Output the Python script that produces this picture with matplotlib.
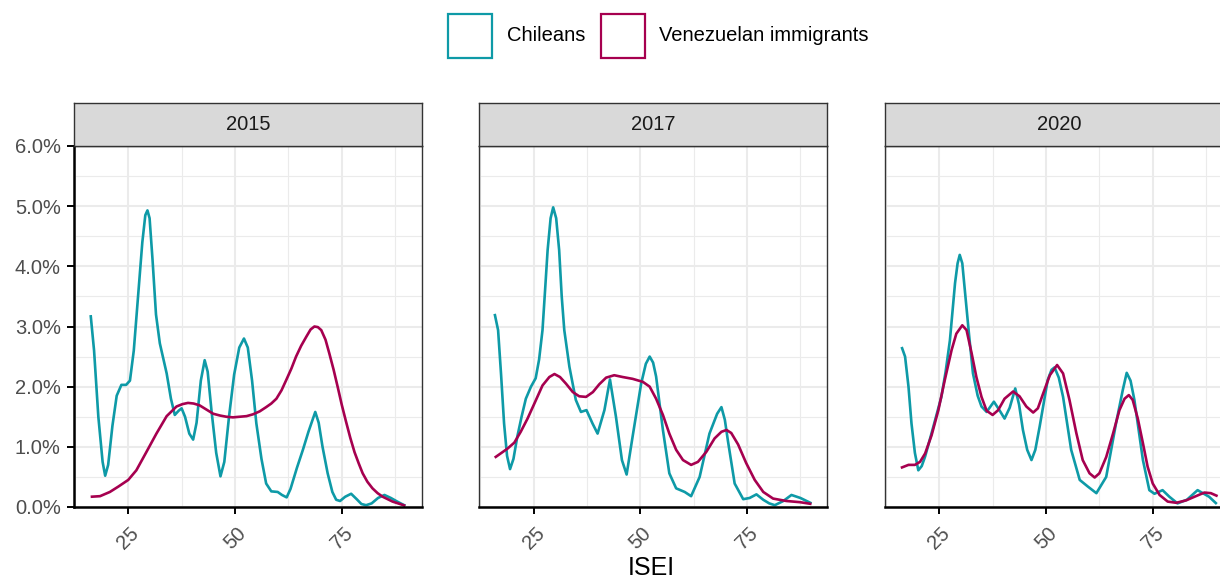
import matplotlib
matplotlib.use("Agg")
import matplotlib.pyplot as plt
from matplotlib.patches import Rectangle
from matplotlib.ticker import PercentFormatter, MultipleLocator

plt.rcParams['font.family'] = ['Liberation Sans', 'DejaVu Sans']

# ---- data: ISEI density by year and group (density in percent) ----
years = ["2015", "2017", "2020"]
groups = ["Chileans", "Venezuelan immigrants"]
group_colors = ["#0E9AA7", "#A6004F"]

chi_2015_x = [16.2, 17.0, 18.0, 19.0, 19.6, 20.3, 21.3, 22.3, 23.4, 24.5, 25.4, 26.3, 27.3, 28.3, 29.0,
              29.5, 30.0, 30.7, 31.5, 32.4, 34.0, 35.0, 35.9, 36.8, 37.5, 38.3, 39.3, 40.2, 41.0, 42.0,
              42.9, 43.6, 44.5, 45.6, 46.6, 47.5, 48.6, 49.8, 51.0, 52.1, 53.0, 54.0, 55.0, 56.2, 57.3,
              58.5, 60.0, 61.0, 62.1, 63.0, 64.5, 65.9, 67.2, 68.8, 69.6, 70.5, 71.7, 72.8, 73.7, 74.6,
              75.8, 77.2, 78.5, 79.6, 80.7, 82.0, 83.5, 85.0, 86.5, 88.0, 89.9]
chi_2015_y = [3.19, 2.60, 1.50, 0.75, 0.52, 0.70, 1.35, 1.85, 2.03, 2.03, 2.10, 2.60, 3.50, 4.40, 4.85,
              4.93, 4.80, 4.10, 3.20, 2.72, 2.22, 1.80, 1.53, 1.60, 1.64, 1.50, 1.22, 1.12, 1.40, 2.10,
              2.44, 2.25, 1.60, 0.90, 0.51, 0.75, 1.50, 2.20, 2.65, 2.80, 2.65, 2.10, 1.39, 0.80, 0.39,
              0.26, 0.25, 0.20, 0.16, 0.30, 0.65, 0.95, 1.25, 1.58, 1.40, 1.00, 0.56, 0.25, 0.12, 0.10,
              0.17, 0.22, 0.13, 0.05, 0.03, 0.06, 0.15, 0.20, 0.15, 0.09, 0.02]

ven_2015_x = [16.2, 18.4, 20.7, 22.7, 25.0, 26.9, 29.3, 31.6, 34.0, 36.3, 37.7, 39.0, 40.3, 41.7, 43.3,
              44.9, 46.5, 48.0, 49.5, 51.1, 52.7, 54.2, 55.8, 57.3, 58.5, 59.7, 60.9, 62.0, 63.2, 64.3,
              65.5, 66.7, 67.7, 68.6, 69.4, 70.2, 71.2, 72.1, 73.1, 74.1, 75.0, 76.0, 77.0, 78.0, 79.0,
              79.9, 81.0, 82.2, 83.4, 84.6, 86.9, 89.9]
ven_2015_y = [0.17, 0.18, 0.25, 0.34, 0.45, 0.61, 0.92, 1.22, 1.51, 1.67, 1.71, 1.73, 1.72, 1.69, 1.62,
              1.55, 1.52, 1.50, 1.49, 1.50, 1.51, 1.54, 1.59, 1.66, 1.72, 1.80, 1.94, 2.11, 2.30, 2.50,
              2.68, 2.83, 2.95, 3.00, 2.99, 2.94, 2.78, 2.55, 2.28, 1.98, 1.70, 1.42, 1.15, 0.91, 0.72,
              0.56, 0.42, 0.31, 0.23, 0.17, 0.09, 0.02]

chi_2017_x = [15.9, 16.7, 17.4, 18.1, 18.8, 19.5, 20.3, 21.2, 22.2, 23.2, 24.4, 25.5, 26.3, 27.1, 27.7,
              28.3, 29.0, 29.6, 30.3, 31.0, 31.6, 32.2, 33.4, 34.9, 36.1, 37.4, 38.8, 40.0, 41.6, 42.9,
              44.3, 45.7, 46.8, 48.2, 50.2, 51.3, 52.2, 53.0, 53.7, 55.3, 56.8, 58.4, 60.4, 61.9, 63.9,
              66.2, 68.0, 69.0, 69.8, 70.5, 72.1, 74.1, 75.6, 77.2, 78.8, 80.2, 81.5, 83.5, 85.4, 87.5,
              90.1]
chi_2017_y = [3.21, 2.94, 2.20, 1.39, 0.85, 0.63, 0.80, 1.17, 1.50, 1.80, 2.00, 2.14, 2.45, 2.94, 3.60,
              4.27, 4.80, 4.98, 4.80, 4.27, 3.50, 2.94, 2.33, 1.78, 1.58, 1.61, 1.39, 1.22, 1.61, 2.12,
              1.50, 0.78, 0.54, 1.17, 2.05, 2.38, 2.50, 2.40, 2.17, 1.28, 0.56, 0.31, 0.25, 0.18, 0.50,
              1.22, 1.55, 1.66, 1.45, 1.11, 0.39, 0.13, 0.15, 0.21, 0.12, 0.06, 0.03, 0.10, 0.20, 0.15,
              0.06]

ven_2017_x = [15.9, 17.3, 18.9, 20.5, 22.0, 23.6, 25.2, 27.1, 28.7, 29.9, 31.2, 32.6, 34.2, 35.7, 37.3,
              38.9, 40.4, 42.0, 43.9, 45.9, 48.2, 50.6, 52.2, 53.7, 55.3, 56.8, 58.4, 60.0, 61.9, 63.5,
              65.5, 67.4, 69.0, 70.2, 71.3, 72.9, 74.8, 76.8, 78.8, 81.1, 84.2, 87.4, 90.1]
ven_2017_y = [0.82, 0.89, 0.97, 1.07, 1.25, 1.47, 1.72, 2.02, 2.16, 2.21, 2.16, 2.05, 1.91, 1.84, 1.83,
              1.91, 2.04, 2.15, 2.19, 2.16, 2.13, 2.08, 2.00, 1.80, 1.53, 1.22, 0.95, 0.78, 0.70, 0.75,
              0.92, 1.14, 1.25, 1.28, 1.23, 1.04, 0.73, 0.45, 0.25, 0.14, 0.10, 0.08, 0.05]

chi_2020_x = [16.2, 17.0, 17.8, 18.5, 19.3, 20.1, 20.9, 21.7, 23.6, 25.5, 26.5, 27.5, 28.7, 29.3, 29.8,
              30.4, 31.0, 32.0, 32.9, 34.0, 34.9, 36.1, 37.8, 39.0, 40.3, 41.5, 42.8, 43.7, 44.6, 45.6,
              46.6, 47.5, 48.5, 50.4, 51.3, 52.0, 53.0, 54.0, 55.9, 57.9, 59.8, 61.8, 64.1, 66.4, 68.0,
              68.9, 69.8, 70.7, 72.7, 74.2, 75.4, 77.3, 78.9, 80.8, 83.0, 85.5, 88.2, 90.0]
chi_2020_y = [2.66, 2.50, 2.00, 1.39, 0.90, 0.61, 0.68, 0.84, 1.33, 1.83, 2.25, 2.77, 3.72, 4.05, 4.19,
              4.05, 3.60, 2.85, 2.22, 1.85, 1.67, 1.58, 1.75, 1.62, 1.47, 1.65, 1.97, 1.70, 1.28, 0.95,
              0.78, 0.95, 1.33, 2.11, 2.28, 2.32, 2.15, 1.83, 0.95, 0.45, 0.34, 0.23, 0.50, 1.39, 1.95,
              2.23, 2.10, 1.78, 0.78, 0.28, 0.22, 0.28, 0.17, 0.06, 0.12, 0.28, 0.17, 0.05]

ven_2020_x = [16.0, 17.8, 19.3, 20.5, 21.7, 23.2, 24.8, 26.3, 27.9, 29.0, 30.4, 31.4, 32.6, 33.7, 34.9,
              36.1, 37.5, 38.8, 40.3, 42.3, 43.8, 45.4, 47.0, 48.1, 49.3, 50.9, 52.6, 54.0, 55.5, 57.1,
              58.6, 60.2, 61.4, 62.5, 64.1, 65.7, 67.2, 68.4, 69.4, 70.3, 71.5, 72.7, 73.8, 75.0, 76.6,
              78.5, 80.5, 82.8, 85.1, 87.1, 88.6, 90.2]
ven_2020_y = [0.65, 0.70, 0.70, 0.75, 0.89, 1.19, 1.61, 2.11, 2.61, 2.88, 3.02, 2.94, 2.55, 2.16, 1.83,
              1.60, 1.53, 1.61, 1.80, 1.92, 1.84, 1.67, 1.57, 1.64, 1.88, 2.19, 2.36, 2.22, 1.78, 1.23,
              0.78, 0.56, 0.49, 0.56, 0.83, 1.22, 1.61, 1.80, 1.86, 1.78, 1.47, 1.06, 0.67, 0.39, 0.20,
              0.09, 0.07, 0.11, 0.18, 0.24, 0.23, 0.18]

curves = {
    "2015": [(chi_2015_x, chi_2015_y), (ven_2015_x, ven_2015_y)],
    "2017": [(chi_2017_x, chi_2017_y), (ven_2017_x, ven_2017_y)],
    "2020": [(chi_2020_x, chi_2020_y), (ven_2020_x, ven_2020_y)],
}

x_ticks = [25, 50, 75]
x_limits = (12.3, 93.7)
y_limits = (0.0, 0.06)

# ---- figure layout (pixel geometry on a 1220 x 582 canvas) ----
W, H = 1220, 582
fig = plt.figure(figsize=(W / 100, H / 100), dpi=100)

panel_left = [74, 479.3, 885]
panel_w = 347.6
panel_top, panel_bottom = 146, 507
strip_top = 103

grid_major = "#EBEBEB"
border_col = "#333333"
tick_col = "#4D4D4D"

for i, (year, left) in enumerate(zip(years, panel_left)):
    ax = fig.add_axes([left / W, 1 - panel_bottom / H, panel_w / W, (panel_bottom - panel_top) / H])
    ax.set_xlim(*x_limits)
    ax.set_ylim(*y_limits)
    ax.set_facecolor("white")

    ax.xaxis.set_major_locator(MultipleLocator(25))
    ax.xaxis.set_minor_locator(MultipleLocator(12.5))
    ax.yaxis.set_major_locator(MultipleLocator(0.01))
    ax.yaxis.set_minor_locator(MultipleLocator(0.005))
    ax.grid(which="major", color=grid_major, lw=1.5)
    ax.grid(which="minor", color=grid_major, lw=0.8)
    ax.set_axisbelow(True)
    ax.set_xticks(x_ticks)
    ax.set_xticklabels([str(t) for t in x_ticks], rotation=45, ha="center", va="top")

    for (xs, ys), col in zip(curves[year], group_colors):
        ax.plot(xs, [v / 100 for v in ys], color=col, lw=1.9, solid_capstyle="butt",
                solid_joinstyle="round", zorder=3)

    for side in ("top", "right"):
        ax.spines[side].set_color(border_col)
        ax.spines[side].set_linewidth(1.0)
    ax.spines["bottom"].set_color("black")
    ax.spines["bottom"].set_linewidth(1.8)
    ax.spines["bottom"].set_zorder(4)

    ax.tick_params(axis="x", which="major", length=5, width=1.4, color="black",
                   labelsize=14.5, labelcolor=tick_col, pad=7)
    ax.tick_params(which="minor", length=0)

    if i == 0:
        ax.spines["left"].set_color("black")
        ax.spines["left"].set_linewidth(1.8)
        ax.spines["left"].set_zorder(4)
        ax.yaxis.set_major_formatter(PercentFormatter(xmax=1, decimals=1))
        ax.tick_params(axis="y", which="major", length=5, width=1.4, color="black",
                       labelsize=14.5, labelcolor=tick_col, pad=4.5)
    else:
        ax.spines["left"].set_color(border_col)
        ax.spines["left"].set_linewidth(1.0)
        ax.tick_params(axis="y", which="major", length=0, labelleft=False)

    # facet strip
    sx = fig.add_axes([left / W, 1 - panel_top / H, panel_w / W, (panel_top - strip_top) / H])
    sx.set_facecolor("#D9D9D9")
    sx.set_xticks([])
    sx.set_yticks([])
    for sp in sx.spines.values():
        sp.set_color(border_col)
        sp.set_linewidth(1.0)
    sx.text(0.5, 0.5, year, ha="center", va="center", fontsize=14.5, color="#1A1A1A",
            transform=sx.transAxes)

# axis title
fig.text(651 / W, 1 - 568 / H, "ISEI", ha="center", va="center", fontsize=18, color="black")

# legend
key = 44
key_left = [447.5, 600.5]
text_left = [507, 659]
key_top = 13.5
for g, col, kl, tl in zip(groups, group_colors, key_left, text_left):
    fig.add_artist(Rectangle((kl / W, 1 - (key_top + key) / H), key / W, key / H,
                             transform=fig.transFigure, facecolor="white", edgecolor=col, lw=1.6))
    fig.text(tl / W, 1 - (key_top + key / 2) / H, g, ha="left", va="center",
             fontsize=14.5, color="black")

fig.savefig("out.png", dpi=100)
